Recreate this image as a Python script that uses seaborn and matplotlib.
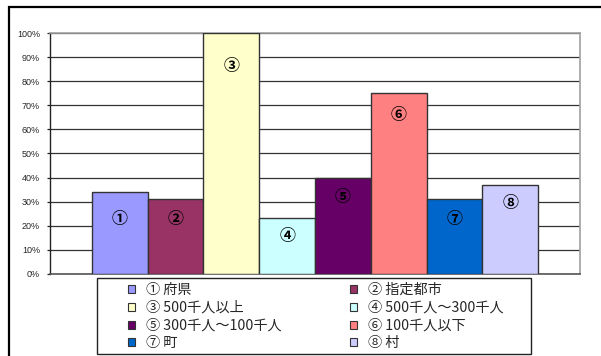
import matplotlib
matplotlib.use("Agg")
import matplotlib.pyplot as plt
from matplotlib.patches import Rectangle, Patch
from matplotlib.ticker import FuncFormatter
import seaborn as sns
import pandas as pd

# Data
labels = ["①", "②", "③", "④", "⑤", "⑥", "⑦", "⑧"]
names = ["府県", "指定都市", "500千人以上", "500千人～300千人",
         "300千人～100千人", "100千人以下", "町", "村"]
values = [34, 31, 100, 23, 40, 75, 31, 37]
colors = ["#9999FF", "#993366", "#FFFFCC", "#CCFFFF",
          "#660066", "#FF8080", "#0066CC", "#CCCCFF"]

sns.set_theme(style="white")
plt.rcParams["font.family"] = ["Noto Sans CJK JP", "DejaVu Sans"]

W, H = 601, 356
fig = plt.figure(figsize=(W / 100, H / 100), dpi=100)
ax = fig.add_axes([50 / W, (H - 273.7) / H, 530 / W, 240.4 / H])

df = pd.DataFrame({"label": labels, "value": values})
sns.barplot(data=df, x="label", y="value", hue="label", palette=colors,
            width=1.0, edgecolor="#333333", linewidth=1.0, legend=False,
            saturation=1, ax=ax, zorder=3)

ax.set_xlim(-1.25, 8.25)
ax.set_ylim(0, 100)
ax.set_yticks(range(0, 101, 10))
ax.yaxis.set_major_formatter(FuncFormatter(lambda v, p: f"{int(v)}%"))
for t in ax.get_yticklabels():
    t.set_family(["Liberation Sans", "DejaVu Sans"])
    t.set_fontsize(6.5)
ax.tick_params(axis="y", left=True, direction="out", length=2.2,
               width=0.9, color="#222222", pad=5)
ax.set_xticks([])
ax.set_xlabel("")
ax.set_ylabel("")
ax.grid(axis="y", color="#333333", linewidth=0.9, zorder=0)
ax.set_axisbelow(True)

for side in ["top", "right", "bottom"]:
    ax.spines[side].set_color("#a0a0a0")
    ax.spines[side].set_linewidth(1.2)
ax.spines["left"].set_color("#222222")
ax.spines["left"].set_linewidth(1.0)
ax.spines["bottom"].set_color("#555555")

# circled number inside each bar, near its top
label_drop = [27, 20, 33, 18, 19, 22, 20, 18]
for i, (lab, v) in enumerate(zip(labels, values)):
    ax.annotate(lab, xy=(i, v), xytext=(0, -label_drop[i]),
                textcoords="offset pixels", ha="center", va="center",
                fontsize=11.5, fontweight="bold", color="black", zorder=5)

# legend: two frameless columns inside one drawn box
fig.patches.append(Rectangle((97 / W, 1 - 354 / H), (531 - 97) / W,
                             (354 - 278) / H, transform=fig.transFigure,
                             facecolor="white", edgecolor="#222222",
                             linewidth=1.0, zorder=1))
for col, x0 in ((0, 128), (1, 350)):
    idx = [col, col + 2, col + 4, col + 6]
    handles = [Patch(facecolor=colors[i], edgecolor="#333333", linewidth=0.8)
               for i in idx]
    texts = [f"{labels[i]} {names[i]}" for i in idx]
    leg = fig.legend(handles, texts, loc="upper left",
                     bbox_to_anchor=(x0 / W, 1 - 283 / H),
                     frameon=False, fontsize=10.2,
                     handlelength=0.5, handleheight=0.5, handletextpad=0.75,
                     labelspacing=0.27, borderpad=0, borderaxespad=0)
    leg.set_zorder(2)

# outer chart frame
fig.patches.append(Rectangle((9 / W, -0.5), 2.0, 0.5 + 1 - 7 / H,
                             transform=fig.transFigure, fill=False,
                             edgecolor="black", linewidth=1.6))

fig.savefig("out.png", dpi=100)
